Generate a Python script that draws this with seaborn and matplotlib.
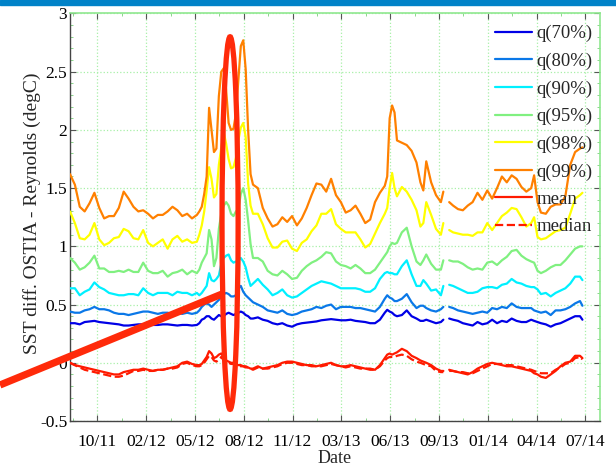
import numpy as np
import matplotlib
matplotlib.use("Agg")
import matplotlib.pyplot as plt
import seaborn as sns
from matplotlib.lines import Line2D
from matplotlib.patches import Ellipse, Rectangle

nan = np.nan

# day index (x axis); nan entry marks the data gap
days = ([0, 10, 20, 30, 40, 50, 60, 70, 80, 90, 100, 110, 120, 130, 140, 150, 160, 170, 180, 190,
         200, 210, 220, 230, 240, 250, 260]
        + [265, 270, 275, 280, 285, 290, 295, 300, 305, 310, 315, 320, 325, 330, 335, 340, 345,
           350, 355, 360, 365, 370, 375]
        + [385, 395, 405, 415, 425, 435, 445, 455, 465, 475, 485, 495, 505, 515, 525, 535, 545,
           555, 565, 575, 585, 595, 605, 615, 625, 635, 645]
        + [650, 655, 660, 665, 670, 680, 690, 700, 710, 718, 724, 730, 740, 750, 760, 765]
        + [771]
        + [777, 785, 795, 805, 815, 825, 835, 845, 855, 865, 875, 885, 895, 905, 915, 925, 935,
           945, 951, 958, 965, 975, 985, 995, 1005, 1015, 1025, 1035, 1045, 1050])

q99 = ([1.62, 1.53, 1.34, 1.30, 1.37, 1.46, 1.33, 1.24, 1.26, 1.26, 1.33, 1.47, 1.41, 1.34, 1.30, 1.31, 1.28, 1.24, 1.27, 1.27, 1.30, 1.34, 1.31, 1.26, 1.28, 1.24, 1.27]
       + [1.30, 1.34, 1.45, 1.60, 2.19, 2.00, 1.81, 1.84, 2.29, 2.50, 2.53, 2.34, 2.06, 2.00, 2.01, 2.14, 2.43, 2.72, 2.77, 2.52, 2.00, 1.62, 1.53]
       + [1.50, 1.33, 1.24, 1.17, 1.19, 1.25, 1.21, 1.26, 1.18, 1.24, 1.33, 1.44, 1.54, 1.53, 1.47, 1.58, 1.44, 1.38, 1.29, 1.31, 1.35, 1.28, 1.20, 1.23, 1.38, 1.46, 1.52]
       + [1.60, 2.10, 2.21, 2.15, 1.91, 1.89, 1.87, 1.82, 1.72, 1.55, 1.48, 1.73, 1.55, 1.44, 1.38, 1.47]
       + [nan]
       + [1.38, 1.35, 1.32, 1.31, 1.35, 1.38, 1.46, 1.40, 1.48, 1.41, 1.50, 1.60, 1.55, 1.61, 1.58, 1.51, 1.47, 1.50, 1.61, 1.38, 1.29, 1.28, 1.34, 1.36, 1.36, 1.43, 1.70, 1.81, 1.84, 1.85])

q98 = ([1.30, 1.20, 1.07, 1.06, 1.10, 1.20, 1.06, 1.01, 1.03, 1.07, 1.08, 1.15, 1.13, 1.07, 1.06, 1.14, 1.03, 1.00, 1.03, 1.06, 0.98, 1.06, 1.09, 1.04, 1.06, 1.03, 1.04]
       + [1.10, 1.18, 1.30, 1.48, 1.68, 1.58, 1.42, 1.45, 1.70, 1.85, 1.98, 1.88, 1.75, 1.67, 1.68, 1.76, 1.91, 2.02, 2.06, 1.94, 1.54, 1.35, 1.28]
       + [1.28, 1.19, 1.07, 0.99, 0.99, 1.04, 1.05, 0.98, 0.96, 1.03, 1.06, 1.13, 1.18, 1.28, 1.28, 1.32, 1.19, 1.15, 1.12, 1.12, 1.12, 1.06, 0.99, 1.02, 1.11, 1.20, 1.28]
       + [1.33, 1.50, 1.63, 1.50, 1.43, 1.51, 1.47, 1.40, 1.31, 1.17, 1.20, 1.38, 1.27, 1.15, 1.10, 1.20]
       + [nan]
       + [1.14, 1.12, 1.11, 1.10, 1.10, 1.09, 1.12, 1.12, 1.20, 1.14, 1.20, 1.26, 1.29, 1.33, 1.32, 1.25, 1.17, 1.20, 1.25, 1.08, 1.06, 1.07, 1.10, 1.13, 1.14, 1.16, 1.28, 1.41, 1.44, 1.46])

q95 = ([0.90, 0.86, 0.80, 0.82, 0.86, 0.92, 0.81, 0.81, 0.78, 0.78, 0.79, 0.78, 0.80, 0.78, 0.78, 0.86, 0.79, 0.77, 0.77, 0.79, 0.74, 0.77, 0.78, 0.80, 0.76, 0.79, 0.77]
       + [0.80, 0.86, 0.90, 0.94, 1.14, 1.06, 0.83, 0.90, 1.15, 1.28, 1.35, 1.38, 1.35, 1.28, 1.26, 1.30, 1.32, 1.45, 1.50, 1.40, 1.22, 1.02, 0.90]
       + [0.90, 0.87, 0.79, 0.76, 0.75, 0.79, 0.76, 0.72, 0.73, 0.79, 0.83, 0.86, 0.88, 0.91, 0.95, 0.94, 0.87, 0.84, 0.83, 0.81, 0.84, 0.81, 0.77, 0.77, 0.80, 0.86, 0.92]
       + [0.95, 1.00, 1.03, 1.02, 1.03, 1.12, 1.16, 1.00, 0.87, 0.84, 0.88, 0.93, 0.85, 0.80, 0.80, 0.88]
       + [nan]
       + [0.88, 0.87, 0.87, 0.85, 0.82, 0.80, 0.81, 0.80, 0.86, 0.87, 0.84, 0.88, 0.91, 0.96, 0.97, 0.92, 0.89, 0.87, 0.86, 0.79, 0.77, 0.79, 0.82, 0.84, 0.84, 0.88, 0.93, 0.98, 1.00, 1.00])

q90 = ([0.64, 0.64, 0.58, 0.61, 0.63, 0.69, 0.65, 0.63, 0.60, 0.59, 0.58, 0.58, 0.59, 0.59, 0.58, 0.64, 0.60, 0.58, 0.60, 0.60, 0.60, 0.58, 0.61, 0.60, 0.60, 0.58, 0.60]
       + [0.58, 0.60, 0.63, 0.66, 0.77, 0.71, 0.70, 0.72, 0.75, 0.85, 0.90, 0.92, 0.93, 0.88, 0.86, 0.87, 0.88, 0.90, 0.87, 0.82, 0.73, 0.66, 0.68]
       + [0.72, 0.67, 0.63, 0.58, 0.60, 0.63, 0.58, 0.56, 0.57, 0.60, 0.63, 0.66, 0.68, 0.70, 0.69, 0.68, 0.66, 0.64, 0.64, 0.64, 0.64, 0.63, 0.61, 0.61, 0.64, 0.72, 0.77]
       + [0.78, 0.77, 0.77, 0.76, 0.76, 0.83, 0.88, 0.76, 0.66, 0.66, 0.71, 0.68, 0.62, 0.63, 0.58, 0.66]
       + [nan]
       + [0.67, 0.66, 0.64, 0.62, 0.60, 0.60, 0.61, 0.64, 0.65, 0.65, 0.64, 0.67, 0.68, 0.72, 0.69, 0.68, 0.66, 0.65, 0.65, 0.63, 0.59, 0.60, 0.57, 0.60, 0.62, 0.64, 0.68, 0.74, 0.74, 0.71])

q80 = ([0.44, 0.43, 0.43, 0.45, 0.46, 0.48, 0.46, 0.46, 0.45, 0.43, 0.42, 0.42, 0.41, 0.42, 0.43, 0.44, 0.44, 0.43, 0.42, 0.43, 0.43, 0.42, 0.43, 0.42, 0.43, 0.42, 0.43]
       + [0.45, 0.48, 0.50, 0.51, 0.50, 0.48, 0.50, 0.52, 0.54, 0.57, 0.59, 0.60, 0.59, 0.57, 0.57, 0.58, 0.64, 0.66, 0.61, 0.58, 0.56, 0.54, 0.52]
       + [0.50, 0.48, 0.45, 0.44, 0.43, 0.45, 0.42, 0.41, 0.42, 0.44, 0.45, 0.46, 0.48, 0.47, 0.49, 0.50, 0.46, 0.48, 0.48, 0.48, 0.47, 0.47, 0.46, 0.45, 0.44, 0.48, 0.55]
       + [0.58, 0.56, 0.55, 0.53, 0.53, 0.55, 0.59, 0.52, 0.47, 0.49, 0.49, 0.47, 0.45, 0.44, 0.46, 0.48]
       + [nan]
       + [0.48, 0.47, 0.45, 0.44, 0.43, 0.42, 0.43, 0.44, 0.43, 0.47, 0.46, 0.48, 0.47, 0.51, 0.48, 0.47, 0.47, 0.47, 0.45, 0.44, 0.43, 0.44, 0.41, 0.45, 0.45, 0.46, 0.48, 0.51, 0.53, 0.49])

q70 = ([0.34, 0.34, 0.33, 0.35, 0.355, 0.36, 0.35, 0.345, 0.34, 0.335, 0.33, 0.32, 0.32, 0.325, 0.33, 0.33, 0.325, 0.325, 0.325, 0.33, 0.33, 0.325, 0.32, 0.325, 0.325, 0.32, 0.325]
       + [0.34, 0.37, 0.38, 0.40, 0.40, 0.38, 0.37, 0.39, 0.41, 0.40, 0.40, 0.42, 0.43, 0.42, 0.41, 0.42, 0.43, 0.44, 0.43, 0.41, 0.40, 0.38, 0.38]
       + [0.39, 0.37, 0.36, 0.34, 0.33, 0.34, 0.32, 0.31, 0.33, 0.34, 0.345, 0.35, 0.355, 0.365, 0.37, 0.375, 0.37, 0.365, 0.365, 0.37, 0.36, 0.355, 0.35, 0.34, 0.34, 0.37, 0.43]
       + [0.455, 0.44, 0.43, 0.41, 0.40, 0.41, 0.45, 0.40, 0.38, 0.36, 0.36, 0.37, 0.355, 0.34, 0.35, 0.37]
       + [nan]
       + [0.38, 0.37, 0.36, 0.34, 0.33, 0.32, 0.35, 0.33, 0.34, 0.37, 0.34, 0.36, 0.35, 0.38, 0.36, 0.35, 0.35, 0.37, 0.36, 0.35, 0.34, 0.33, 0.31, 0.33, 0.34, 0.36, 0.38, 0.40, 0.40, 0.37])

mean = ([0.0, -0.02, -0.03, -0.04, -0.05, -0.06, -0.07, -0.08, -0.09, -0.10, -0.10, -0.08, -0.07, -0.06, -0.06, -0.05, -0.06, -0.07, -0.06, -0.06, -0.05, -0.04, -0.03, 0.00, 0.01, -0.01, -0.02]
        + [-0.02, -0.01, 0.02, 0.05, 0.10, 0.08, 0.04, 0.05, 0.07, 0.08, 0.04, 0.02, 0.01, 0.0, 0.0, -0.01, -0.02, -0.02, -0.03, -0.03, -0.04, -0.05, -0.05]
        + [-0.03, -0.05, -0.04, -0.03, -0.02, 0.0, 0.01, 0.01, 0.0, -0.01, -0.02, -0.02, -0.03, -0.02, -0.01, 0.0, -0.02, -0.03, -0.03, -0.02, -0.03, -0.04, -0.05, -0.05, -0.06, -0.02, 0.04]
        + [0.07, 0.08, 0.07, 0.08, 0.09, 0.12, 0.10, 0.06, 0.04, 0.02, 0.01, 0.0, -0.02, -0.05, -0.07, -0.07]
        + [nan]
        + [-0.06, -0.07, -0.08, -0.09, -0.10, -0.08, -0.05, -0.03, -0.01, 0.0, -0.01, -0.02, -0.03, -0.03, -0.04, -0.05, -0.06, -0.07, -0.09, -0.10, -0.12, -0.13, -0.10, -0.07, -0.03, 0.0, 0.01, 0.06, 0.06, 0.04])

median = ([0.0, -0.02, -0.04, -0.06, -0.07, -0.08, -0.09, -0.10, -0.11, -0.12, -0.12, -0.11, -0.09, -0.07, -0.07, -0.06, -0.07, -0.07, -0.06, -0.06, -0.05, -0.05, -0.04, -0.01, 0.0, -0.02, -0.03]
          + [-0.03, -0.02, 0.0, 0.03, 0.06, 0.05, 0.02, 0.01, 0.03, 0.05, 0.02, 0.01, 0.0, -0.01, -0.01, -0.02, -0.02, -0.03, -0.03, -0.04, -0.04, -0.05, -0.06]
          + [-0.04, -0.05, -0.05, -0.04, -0.03, -0.01, 0.0, 0.0, -0.01, -0.02, -0.02, -0.03, -0.03, -0.03, -0.02, -0.01, -0.02, -0.03, -0.04, -0.03, -0.04, -0.05, -0.05, -0.06, -0.06, -0.03, 0.02]
          + [0.04, 0.05, 0.05, 0.05, 0.06, 0.07, 0.06, 0.03, 0.01, 0.0, -0.01, -0.02, -0.03, -0.07, -0.08, -0.08]
          + [nan]
          + [-0.07, -0.07, -0.08, -0.08, -0.09, -0.09, -0.07, -0.05, -0.03, -0.01, -0.01, -0.01, -0.02, -0.02, -0.03, -0.04, -0.05, -0.06, -0.07, -0.08, -0.09, -0.09, -0.09, -0.06, -0.04, -0.01, 0.0, 0.04, 0.05, 0.03])

series_names = ["q(70%)", "q(80%)", "q(90%)", "q(95%)", "q(98%)", "q(99%)", "mean", "median"]
series_values = [q70, q80, q90, q95, q98, q99, mean, median]
series_colors = ["#0000E6", "#0A78E8", "#00F0FF", "#80F080", "#FFFF00", "#FF8000", "#FF1A00", "#FF1A00"]
series_styles = ["-", "-", "-", "-", "-", "-", "-", "--"]

x_tick_pos = [56, 156, 256, 356, 456, 556, 656, 756, 856, 956, 1056]
x_tick_labels = ["10/11", "02/12", "05/12", "08/12", "11/12", "03/13", "06/13", "09/13", "01/14", "04/14", "07/14"]
y_ticks = [-0.5, 0, 0.5, 1, 1.5, 2, 2.5, 3]
y_tick_labels = ["-0.5", "0", "0.5", "1", "1.5", "2", "2.5", "3"]

sns.set_style("ticks")
plt.rcParams["font.family"] = ["Liberation Serif", "DejaVu Serif"]

fig = plt.figure(figsize=(6.16, 4.69), dpi=100)
ax = fig.add_axes([70 / 616, 1 - 421 / 469, 530 / 616, (421 - 13.5) / 469])

grid_col = "#A8F0A8"
days_arr = np.array(days, dtype=float)
for name, vals, col, ls in zip(series_names, series_values, series_colors, series_styles):
    v = np.array(vals, dtype=float)
    mask = ~np.isnan(v)
    # split into contiguous segments
    seg_id = np.cumsum(~mask)
    for s in np.unique(seg_id[mask]):
        sel = mask & (seg_id == s)
        sns.lineplot(x=days_arr[sel], y=v[sel], ax=ax, color=col, linestyle=ls,
                     linewidth=1.6, sort=False, estimator=None, legend=False, zorder=3)

ax.set_xlim(0, 1086)
ax.set_ylim(-0.5, 3)
ax.set_xticks(x_tick_pos)
ax.set_xticklabels(x_tick_labels)
ax.set_xticks([6, 106, 206, 306, 406, 506, 606, 706, 806, 906, 1006], minor=True)
ax.set_yticks(y_ticks)
ax.set_yticklabels(y_tick_labels)
ax.set_yticks(np.arange(-0.5, 3.01, 0.1), minor=True)
ax.tick_params(axis="both", which="major", direction="in", length=4, width=0.8,
               labelsize=12.5, top=True, right=True, colors="#555555", labelcolor="black")
ax.tick_params(axis="both", which="minor", direction="in", length=2.5, width=0.6,
               top=True, right=True, colors="#7AD07A")
ax.tick_params(axis="x", which="major", pad=9)
ax.tick_params(axis="y", which="major", pad=2)
ax.grid(True, which="major", color=grid_col, linestyle=":", linewidth=0.9, zorder=0)

for side in ["left", "bottom"]:
    ax.spines[side].set_color("#444444")
    ax.spines[side].set_linewidth(1.0)
for side in ["top", "right"]:
    ax.spines[side].set_color("#90E890")
    ax.spines[side].set_linewidth(1.2)

ax.set_xlabel("Date", fontsize=13, labelpad=0)
ax.set_ylabel("SST diff. OSTIA - Reynolds (degC)", fontsize=14)
ax.yaxis.set_label_coords(-0.055, 0.51)

handles = [Line2D([0], [0], color=c, linestyle=ls, linewidth=1.6)
           for c, ls in zip(series_colors, series_styles)]
leg = ax.legend(handles, series_names, loc="upper right", bbox_to_anchor=(1.008, 0.999),
                frameon=False, fontsize=13.5, handlelength=2.0, handletextpad=0.25,
                labelspacing=0.55, borderaxespad=0.2)

# annotation ellipse and pointer line
ell = Ellipse((328, 1.2), width=33, height=3.2, fill=False, edgecolor="#FF2A0A",
              linewidth=3.8, zorder=6)
ax.add_patch(ell)
fig.add_artist(Line2D([0, 222 / 616], [1 - 385 / 469, 1 - 294 / 469], color="#FF2A0A",
                      linewidth=5.2, solid_capstyle="butt", zorder=7))

# top banner stripe
fig.add_artist(Rectangle((0, 1 - 5 / 469), 1, 5 / 469, transform=fig.transFigure,
                         color="#0082C8", zorder=10))

fig.savefig("out.png", dpi=100)
